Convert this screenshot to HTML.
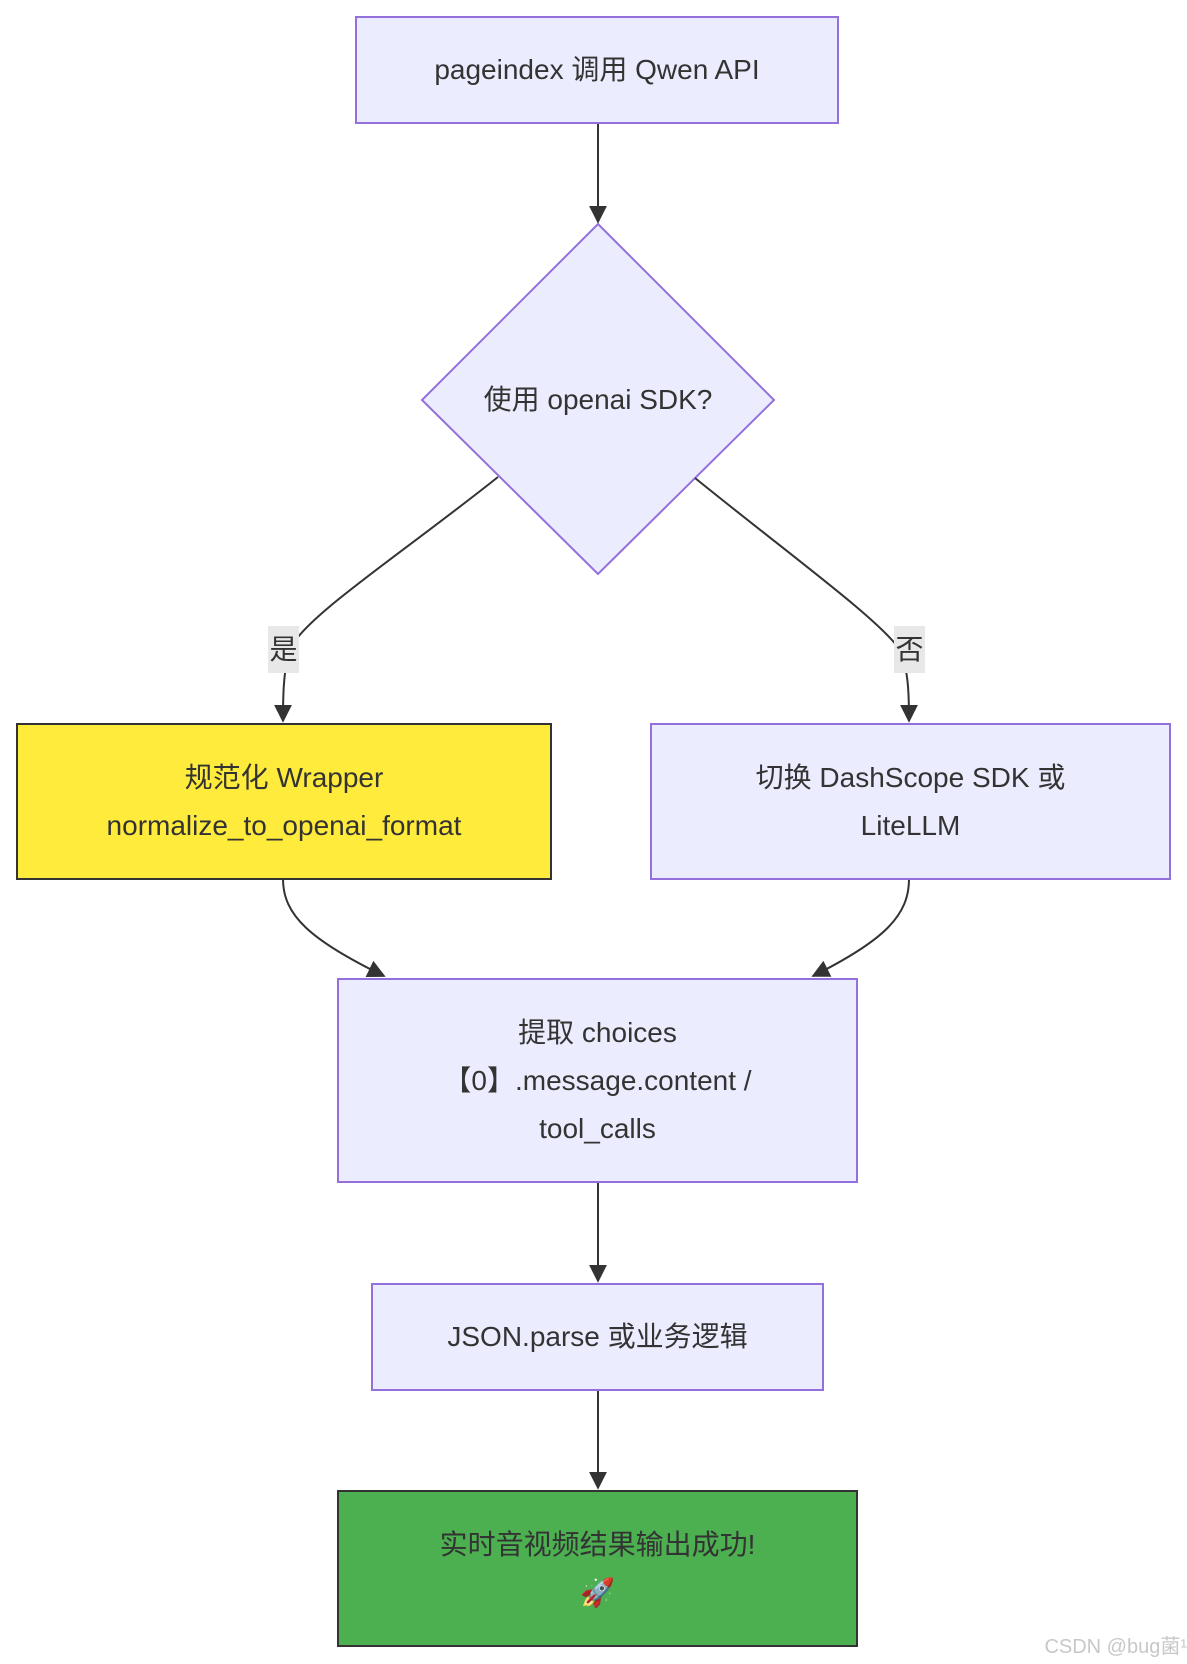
<!DOCTYPE html>
<html><head><meta charset="utf-8"><style>
body{margin:0;width:1187px;height:1664px;background:#fff;position:relative;overflow:hidden;font-family:"Liberation Sans","Noto Sans CJK SC",sans-serif;color:#333}
.n{position:absolute;box-sizing:border-box;background:#ececff;border:2px solid #9370db;display:flex;align-items:center;justify-content:center;text-align:center;font-size:28px;line-height:48px}
.l{position:absolute;background:#e8e8e8;font-size:28px;line-height:47px;width:31px;text-align:center}
</style></head><body>
<svg width="1187" height="1664" style="position:absolute;left:0;top:0">
<defs><marker id="a" viewBox="0 0 10 10" refX="9" refY="5" markerWidth="10" markerHeight="10" markerUnits="userSpaceOnUse" orient="auto"><path d="M0,0L10,5L0,10z" fill="#333"/></marker>
<marker id="b" viewBox="0 0 10 10" refX="9" refY="5" markerWidth="18" markerHeight="18" markerUnits="userSpaceOnUse" orient="auto"><path d="M0,0L10,5L0,10z" fill="#333"/></marker></defs>
<polygon points="598,224 774,400 598,574 422,400" fill="#ececff" stroke="#9370db" stroke-width="2"/>
<g fill="none" stroke="#333" stroke-width="2">
<path d="M598,124V222" marker-end="url(#b)"/>
<path d="M498,477C400,555 300,620 290,650C283,670 283,700 283,721" marker-end="url(#b)"/>
<path d="M695,478C790,555 880,620 900,650C909,670 909,700 909,721" marker-end="url(#b)"/>
<path d="M283,879C283,915 310,940 384,976" marker-end="url(#b)"/>
<path d="M909,879C909,915 885,940 813,976" marker-end="url(#b)"/>
<path d="M598,1182V1281" marker-end="url(#b)"/>
<path d="M598,1390V1488" marker-end="url(#b)"/>
</g></svg>
<div class="n" style="left:355px;top:16px;width:484px;height:108px">pageindex 调用 Qwen API</div>
<div style="position:absolute;left:422px;top:376px;width:352px;text-align:center;font-size:28px;line-height:48px">使用 openai SDK?</div>
<div class="l" style="left:268px;top:626px">是</div>
<div class="l" style="left:894px;top:626px">否</div>
<div class="n" style="left:16px;top:723px;width:536px;height:157px;background:#ffeb3b;border-color:#333">规范化 Wrapper<br>normalize_to_openai_format</div>
<div class="n" style="left:650px;top:723px;width:521px;height:157px">切换 DashScope SDK 或<br>LiteLLM</div>
<div class="n" style="left:337px;top:978px;width:521px;height:205px">提取 choices<br>【0】.message.content /<br>tool_calls</div>
<div class="n" style="left:371px;top:1283px;width:453px;height:108px">JSON.parse 或业务逻辑</div>
<div class="n" style="left:337px;top:1490px;width:521px;height:157px;background:#4caf50;border-color:#333">实时音视频结果输出成功!<br>🚀</div>
<div style="position:absolute;right:0;top:1630px;font-size:20px;color:#c8c8c8">CSDN @bug菌¹</div>
</body></html>
